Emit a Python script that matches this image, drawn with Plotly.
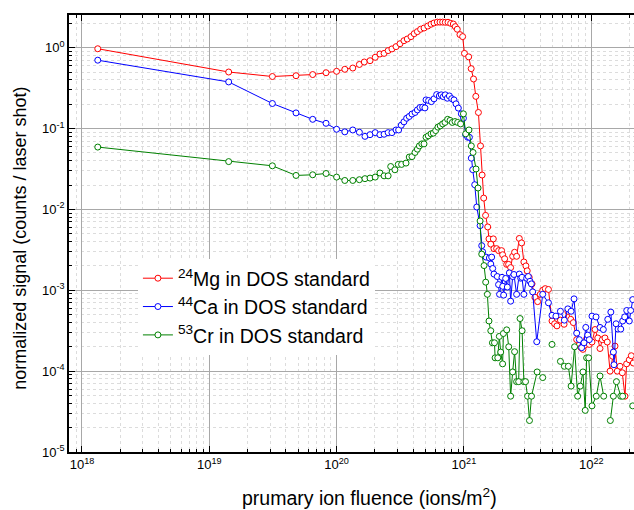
import plotly.graph_objects as go

# ---------------- data ----------------
mg_x = [1.33e18, 1.42e19, 3.13e19, 4.80e19, 6.49e19, 8.26e19, 1.0e20, 1.16e20, 1.34e20, 1.51e20,
        1.65e20, 1.83e20, 2.01e20, 2.19e20, 2.36e20, 2.54e20, 2.72e20, 2.93e20, 3.15e20, 3.38e20,
        3.59e20, 3.84e20, 4.07e20, 4.31e20, 4.57e20, 4.86e20, 5.20e20, 5.52e20, 5.82e20, 6.18e20,
        6.49e20, 6.81e20, 7.14e20, 7.50e20, 7.87e20, 8.26e20, 8.55e20, 8.87e20, 9.31e20, 9.77e20,
        1.01e21, 1.09e21, 1.14e21, 1.19e21, 1.24e21, 1.30e21, 1.35e21, 1.39e21, 1.43e21, 1.48e21,
        1.538e21, 1.574e21, 1.626e21, 1.702e21, 1.722e21, 1.807e21, 1.875e21, 1.977e21, 2.014e21, 2.089e21,
        2.168e21, 2.244e21, 2.328e21, 2.415e21, 2.500e21, 2.594e21, 2.723e21, 2.838e21, 2.958e21, 3.069e21,
        3.141e21, 3.258e21, 3.428e21, 3.614e21, 3.793e21, 3.981e21, 4.159e21, 4.355e21, 4.613e21, 4.92e21,
        5.16e21, 5.38e21, 5.73e21, 6.12e21, 6.55e21, 6.90e21, 7.24e21, 7.69e21, 8.02e21, 8.32e21,
        8.61e21, 8.89e21, 9.20e21, 9.66e21, 1.014e22, 1.072e22, 1.125e22, 1.172e22, 1.222e22, 1.282e22,
        1.337e22, 1.406e22, 1.472e22, 1.538e22, 1.603e22, 1.683e22, 1.754e22, 1.841e22, 1.897e22, 1.991e22,
        2.065e22, 2.143e22]
mg_y = [0.97, 0.50, 0.44, 0.45, 0.465, 0.49, 0.51, 0.54, 0.56, 0.62,
        0.665, 0.69, 0.76, 0.835, 0.85, 0.92, 0.965, 1.03, 1.12, 1.22,
        1.28, 1.37, 1.49, 1.58, 1.69, 1.75, 1.85, 1.95, 2.02, 2.07,
        2.07, 2.07, 2.06, 2.06, 2.00, 1.96, 1.82, 1.69, 1.45, 1.37,
        0.85, 0.77, 0.55, 0.41, 0.25, 0.158, 0.061, 0.0266, 0.0138, 8.43e-3,
        6.07e-3, 4.32e-3, 3.72e-3, 4.32e-3, 3.27e-3, 3.27e-3, 3.09e-3, 3.09e-3, 2.75e-3, 2.45e-3,
        2.09e-3, 2.09e-3, 1.905e-3, 2.63e-3, 2.95e-3, 2.63e-3, 4.37e-3, 3.85e-3, 2.24e-3, 2.0e-3,
        1.74e-3, 1.445e-3, 1.20e-3, 8.2e-4, 7.24e-4, 8.91e-4, 1.0e-3, 1.047e-3, 1.023e-3, 4.17e-4,
        3.85e-4, 3.63e-4, 4.27e-4, 3.80e-4, 5.50e-4, 4.37e-4, 3.98e-4, 2.45e-4, 2.09e-4, 1.95e-4,
        1.86e-4, 2.09e-4, 2.51e-4, 2.14e-4, 2.29e-4, 3.27e-4, 2.57e-4, 1.905e-4, 2.45e-4, 2.57e-4,
        2.29e-4, 1.0e-4, 1.53e-4, 2.04e-4, 1.0e-4, 1.148e-4, 9.55e-5, 4.9e-5, 1.23e-4, 1.38e-4,
        1.55e-4, 1.26e-4]

ca_x = [1.33e18, 1.42e19, 3.13e19, 4.80e19, 6.49e19, 8.26e19, 1.0e20, 1.16e20, 1.34e20, 1.51e20,
        1.67e20, 1.83e20, 2.01e20, 2.19e20, 2.36e20, 2.54e20, 2.72e20, 2.93e20, 3.07e20, 3.22e20,
        3.38e20, 3.55e20, 3.72e20, 3.91e20, 4.13e20, 4.31e20, 4.52e20, 4.74e20, 4.94e20, 5.04e20,
        5.28e20, 5.55e20, 5.82e20, 6.11e20, 6.41e20, 6.64e20, 6.89e20, 7.14e20, 7.41e20, 7.69e20,
        8.02e20, 8.36e20, 8.67e20, 9.04e20, 9.55e20, 9.91e20, 1.033e21, 1.072e21, 1.104e21, 1.143e21,
        1.172e21, 1.216e21, 1.262e21, 1.340e21, 1.380e21, 1.403e21, 1.493e21, 1.585e21, 1.626e21, 1.652e21,
        1.683e21, 1.722e21, 1.828e21, 1.871e21, 1.905e21, 1.991e21, 2.018e21, 2.051e21, 2.128e21, 2.193e21,
        2.275e21, 2.328e21, 2.415e21, 2.472e21, 2.594e21, 2.723e21, 2.793e21, 2.858e21, 2.958e21, 3.112e21,
        3.206e21, 3.304e21, 3.388e21, 3.467e21, 3.733e21, 4.159e21, 4.613e21, 4.92e21, 5.28e21, 5.73e21,
        6.15e21, 6.55e21, 6.95e21, 7.33e21, 7.69e21, 8.07e21, 8.41e21, 8.77e21, 9.06e21, 9.38e21,
        9.66e21, 1.014e22, 1.091e22, 1.172e22, 1.245e22, 1.349e22, 1.426e22, 1.493e22, 1.510e22, 1.567e22,
        1.626e22, 1.706e22, 1.766e22, 1.832e22, 1.901e22, 1.991e22, 2.042e22, 2.118e22]
ca_y = [0.70, 0.377, 0.204, 0.156, 0.130, 0.116, 0.098, 0.091, 0.096, 0.090,
        0.080, 0.084, 0.089, 0.084, 0.085, 0.089, 0.089, 0.096, 0.096, 0.110,
        0.121, 0.134, 0.141, 0.151, 0.158, 0.170, 0.182, 0.184, 0.180, 0.226,
        0.222, 0.215, 0.233, 0.263, 0.253, 0.261, 0.248, 0.261, 0.237, 0.253,
        0.234, 0.226, 0.202, 0.179, 0.152, 0.134, 0.0836, 0.078, 0.078, 0.043,
        0.031, 0.0202, 0.0107, 0.0063, 0.00356, 2.99e-3, 2.57e-3, 2.51e-3, 2.11e-3, 2.57e-3,
        1.86e-3, 1.585e-3, 1.48e-3, 1.175e-3, 8.91e-4, 1.445e-3, 1.12e-3, 8.71e-4, 1.40e-3, 1.096e-3,
        1.64e-3, 7.33e-4, 1.48e-3, 1.567e-3, 8.91e-4, 1.585e-3, 1.41e-3, 1.445e-3, 8.91e-4, 1.41e-3,
        1.48e-3, 1.29e-3, 1.20e-3, 9.55e-4, 2.31e-4, 8.91e-4, 7.0e-4, 4.9e-4, 4.79e-4, 5.50e-4,
        4.27e-4, 5.89e-4, 5.50e-4, 7.83e-4, 2.95e-4, 2.45e-4, 1.95e-4, 2.24e-4, 3.47e-4, 2.79e-4,
        2.45e-4, 4.79e-4, 4.68e-4, 3.47e-4, 3.27e-4, 4.37e-4, 5.37e-4, 1.72e-4, 1.20e-4, 3.85e-4,
        3.31e-4, 3.31e-4, 4.17e-4, 4.68e-4, 5.62e-4, 4.17e-4, 5.62e-4, 7.67e-4]

cr_x = [1.33e18, 1.42e19, 3.13e19, 4.80e19, 6.49e19, 8.26e19, 1.0e20, 1.16e20, 1.34e20, 1.51e20,
        1.67e20, 1.83e20, 2.01e20, 2.19e20, 2.36e20, 2.54e20, 2.66e20, 2.87e20, 3.05e20, 3.24e20,
        3.51e20, 3.72e20, 3.91e20, 4.13e20, 4.31e20, 4.47e20, 4.67e20, 4.86e20, 5.04e20, 5.25e20,
        5.52e20, 5.75e20, 6.0e20, 6.25e20, 6.52e20, 6.81e20, 7.10e20, 7.45e20, 7.78e20, 8.11e20,
        8.51e20, 8.93e20, 9.42e20, 9.91e20, 1.033e21, 1.096e21, 1.143e21, 1.180e21, 1.245e21, 1.291e21,
        1.340e21, 1.380e21, 1.439e21, 1.483e21, 1.528e21, 1.574e21, 1.626e21, 1.675e21, 1.738e21, 1.758e21,
        1.845e21, 1.897e21, 1.945e21, 2.014e21, 2.042e21, 2.168e21, 2.249e21, 2.328e21, 2.415e21, 2.500e21,
        2.594e21, 2.692e21, 2.761e21, 2.864e21, 2.958e21, 3.048e21, 3.162e21, 3.273e21, 3.396e21, 3.758e21,
        4.159e21, 4.5e21, 4.92e21, 5.3e21, 5.73e21, 6.15e21, 6.61e21, 6.95e21, 7.40e21, 7.82e21,
        8.20e21, 8.61e21, 8.97e21, 9.20e21, 9.55e21, 1.014e22, 1.096e22, 1.172e22, 1.253e22, 1.33e22,
        1.413e22, 1.493e22, 1.578e22, 1.706e22, 1.766e22, 1.95e22, 2.118e22]
cr_y = [0.059, 0.039, 0.0346, 0.0263, 0.0268, 0.0278, 0.0251, 0.0228, 0.0228, 0.0233,
        0.024, 0.0244, 0.0251, 0.0282, 0.026, 0.026, 0.0339, 0.0309, 0.036, 0.036,
        0.0374, 0.0444, 0.045, 0.0506, 0.0556, 0.061, 0.0646, 0.0646, 0.078, 0.0813,
        0.086, 0.0877, 0.0944, 0.104, 0.108, 0.114, 0.119, 0.130, 0.126, 0.119,
        0.122, 0.119, 0.114, 0.152, 0.086, 0.096, 0.061, 0.0506, 0.0316, 0.0184,
        0.0072, 0.0028, 2.02e-3, 1.26e-3, 8.91e-4, 4.17e-4, 3.16e-4, 2.24e-4, 2.24e-4, 1.46e-4,
        1.46e-4, 2.69e-4, 1.72e-4, 1.23e-4, 2.92e-4, 3.24e-4, 2.0e-4, 4.9e-5, 9.77e-5, 1.74e-4,
        7.41e-5, 7.41e-5, 4.47e-4, 3.16e-4, 7.41e-5, 7.41e-5, 4.9e-5, 2.45e-5, 4.9e-5, 9.77e-5,
        8.32e-5, None, 2.14e-4, None, 1.32e-4, 1.148e-4, 1.148e-4, 6.53e-5, 2.0e-4, 4.9e-5,
        6.53e-5, 9.77e-5, 3.27e-5, 1.46e-4, 1.46e-4, 3.72e-5, 4.9e-5, 8.71e-5, 4.9e-5, None,
        2.45e-5, 4.9e-5, 7.41e-5, 4.9e-5, 4.9e-5, None, 3.72e-5]

series_names = ["<sup>24</sup>Mg in DOS standard",
                "<sup>44</sup>Ca in DOS standard",
                "<sup>53</sup>Cr in DOS standard"]
series_colors = ["#ff0000", "#0000ff", "#008000"]

x_tickvals = [1e18, 1e19, 1e20, 1e21, 1e22]
x_ticktext = ["10<sup>18</sup>", "10<sup>19</sup>", "10<sup>20</sup>", "10<sup>21</sup>", "10<sup>22</sup>"]
y_tickvals = [1e-5, 1e-4, 1e-3, 1e-2, 1e-1, 1e0]
y_ticktext = ["10<sup>-5</sup>", "10<sup>-4</sup>", "10<sup>-3</sup>", "10<sup>-2</sup>",
              "10<sup>-1</sup>", "10<sup>0</sup>"]

x_title = "prumary ion fluence (ions/m<sup>2</sup>)"
y_title = "normalized signal (counts / laser shot)"

# ---------------- figure ----------------
FONT = "Arial, Liberation Sans, sans-serif"
fig = go.Figure()
for xs, ys, name, col in zip([mg_x, ca_x, cr_x], [mg_y, ca_y, cr_y], series_names, series_colors):
    fig.add_trace(go.Scatter(
        x=xs, y=ys, mode="lines+markers", name=name, legendgroup=name,
        line=dict(color=col, width=1),
        marker=dict(symbol="circle", size=6, color="white", line=dict(color=col, width=1)),
        connectgaps=False,
    ))

x_minor = [float(m) * 10.0 ** d for d in range(17, 23) for m in range(2, 10)]
y_minor = [float(m) * 10.0 ** d for d in range(-6, 1) for m in range(2, 10)]

axis_common = dict(
    type="log", showline=True, linecolor="black", linewidth=1.5,
    ticks="inside", ticklen=6, tickwidth=1, tickcolor="black",
    showgrid=True, gridcolor="#a8a8a8", gridwidth=1,
    zeroline=False, tickfont=dict(family=FONT, size=13, color="black"),
    tickmode="array",
)
fig.update_xaxes(
    **axis_common, range=[17.898, 22.336], mirror="ticks",
    tickvals=x_tickvals, ticktext=x_ticktext,
    minor=dict(tickmode="array", tickvals=x_minor, ticks="inside", ticklen=3,
               tickcolor="black", showgrid=True, gridcolor="#dcdcdc", griddash="dot", gridwidth=1),
)
fig.update_yaxes(
    **axis_common, range=[-5, 0.404], mirror=False,
    tickvals=y_tickvals, ticktext=y_ticktext,
    minor=dict(tickmode="array", tickvals=y_minor, ticks="inside", ticklen=3,
               tickcolor="black", showgrid=True, gridcolor="#dcdcdc", griddash="dot", gridwidth=1),
)

fig.add_annotation(text=x_title, xref="paper", yref="paper", x=0.531, y=-0.103,
                   showarrow=False, xanchor="center", yanchor="middle",
                   font=dict(family=FONT, size=19.5, color="black"))
fig.add_annotation(text=y_title, xref="paper", yref="paper", x=-0.087, y=0.49,
                   showarrow=False, xanchor="center", yanchor="middle", textangle=-90,
                   font=dict(family=FONT, size=18, color="black"))

fig.update_layout(
    width=634, height=510,
    margin=dict(l=69, r=0, t=15, b=58),
    paper_bgcolor="white", plot_bgcolor="white",
    showlegend=True,
    legend=dict(x=0.122, y=0.4416, xanchor="left", yanchor="top",
                bgcolor="white", borderwidth=0, traceorder="grouped", tracegroupgap=0,
                font=dict(family=FONT, size=19.5, color="black")),
)

fig.write_html("out.html", config={"displayModeBar": False},
               post_script="document.body.style.margin='0px';")
